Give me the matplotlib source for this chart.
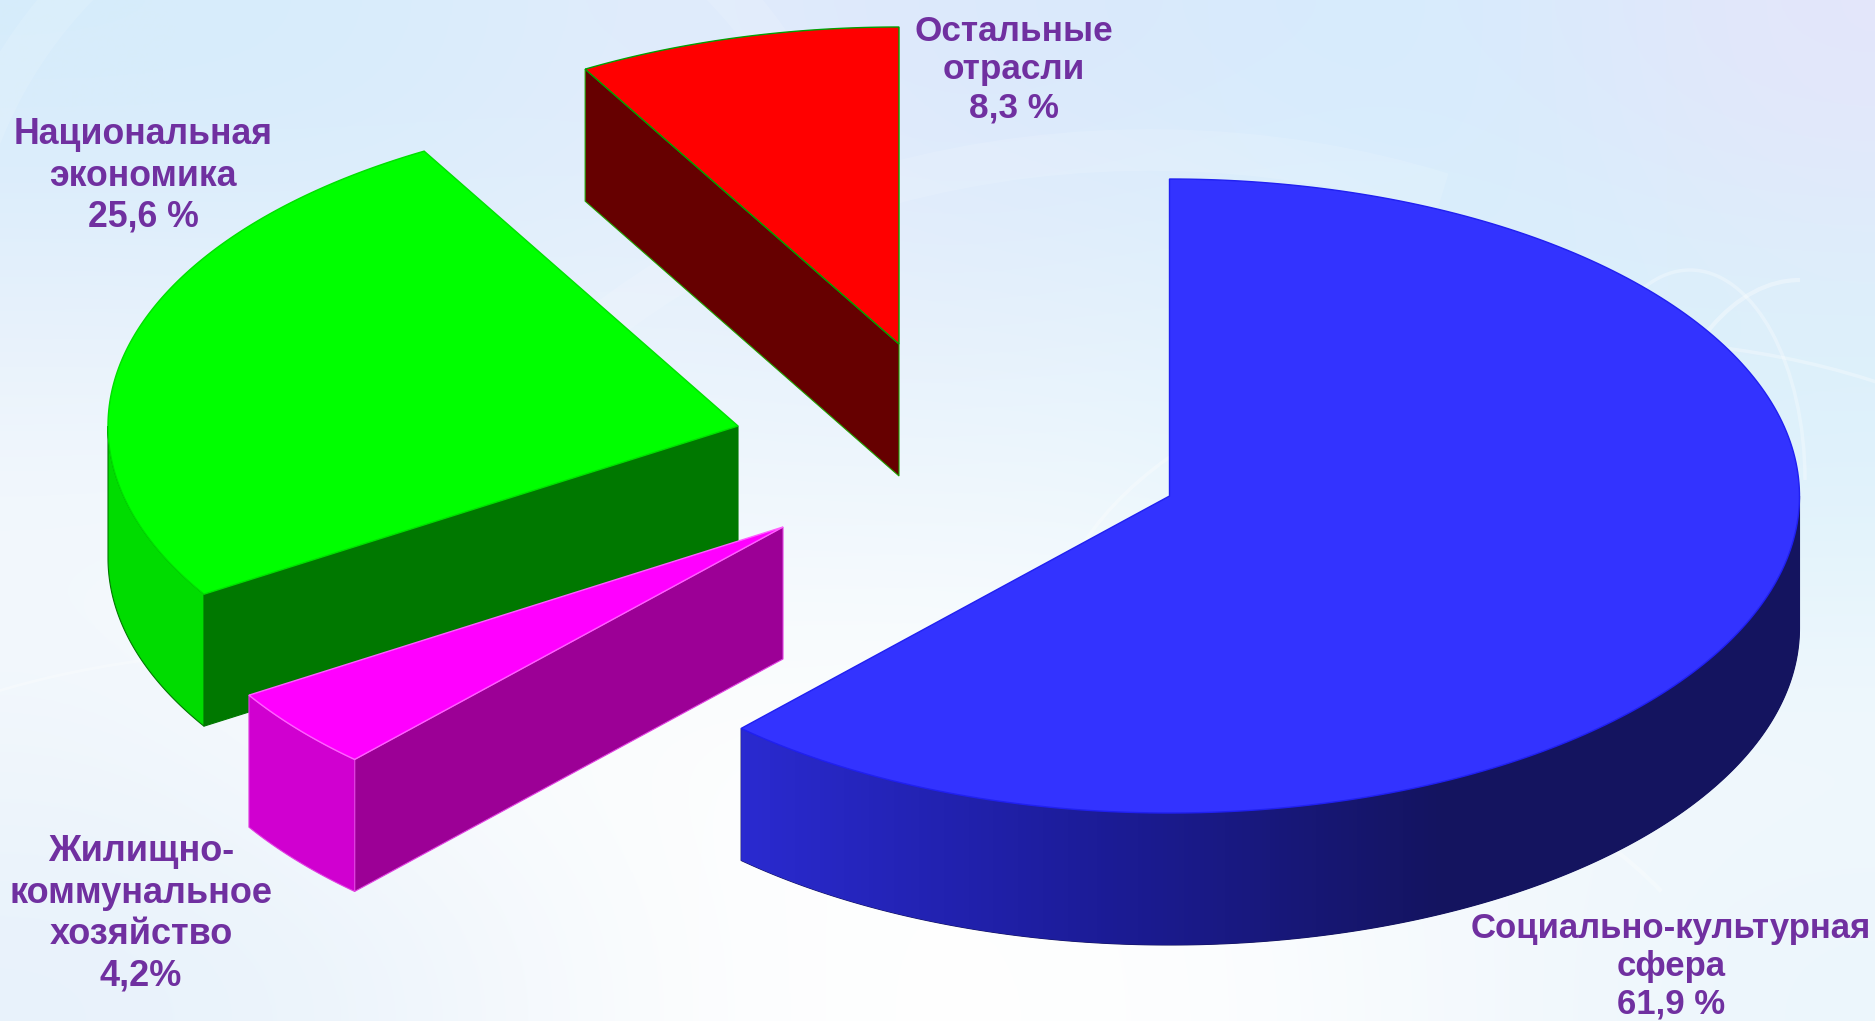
import numpy as np
import matplotlib.pyplot as plt
from matplotlib.colors import LinearSegmentedColormap, to_rgb
from matplotlib.patches import Arc, Polygon

# pie data, clockwise from 12 o'clock
names = ["Социально-культурная\nсфера\n61,9 %",
         "Жилищно-\nкоммунальное\nхозяйство\n4,2%",
         "Национальная\nэкономика\n25,6 %",
         "Остальные\nотрасли\n8,3 %"]
shares = [61.9, 4.2, 25.6, 8.3]

# layout, in pixels of the picture
W, H = 1875, 1021
apex = [(1169.5, 496), (783, 527), (738, 426), (899, 344)]
label_pos = [(1671, 966), (141, 914), (143, 176), (1014, 70)]
line_gap = [1.18, 1.24, 1.24, 1.2]
label_size = [25, 26, 25.7, 25.3]
A, B, DEPTH = 630, 317, 132

top_col = ["#3333ff", "#ff00ff", "#00ff00", "#ff0000"]
edge_col = ["#2020f0", "#ff60ff", "#00e000", "#00a000"]
cut_col = [None, "#9c0096", "#007800", "#660000"]
cut_edge = [None, "#e040e0", "#007800", "#20a000"]
wall_col = [None, "#d000d0", "#00dc00", None]
TEXT = "#7030a0"

bg_grid = [
    ["#d6ecfb", "#d8ecfb", "#e2ecfb", "#dce8fb", "#d8eafc", "#d6ecfd", "#e4e6fa"],
    ["#e6f0fb", "#e2f0fb", "#e8f2fc", "#e4effb", "#e4f2fc", "#d8f0fb", "#dcf0fb"],
    ["#f4f9fd", "#f6fafe", "#f0f7fd", "#f0f8fd", "#eef8fd", "#dcf2fb", "#e0f2fb"],
    ["#f2f7fc", "#fbfdfe", "#fdfefe", "#fefefe", "#fafdfe", "#f2f8fd", "#f2f9fd"],
    ["#e8f2fb", "#eef5fc", "#fcfdfe", "#ffffff", "#fdfeff", "#f4f9fd", "#ecf6fc"],
]


def rim(p, theta):
    t = np.radians(theta)
    return p[0] + A * np.sin(t), p[1] - B * np.cos(t)


def quad(xa, ya, xb, yb, col, edge=None, zorder=3):
    xs = np.r_[xa, xb[::-1]]
    ys = np.r_[ya, yb[::-1]]
    patch = Polygon(np.c_[xs, ys], closed=True, fc=col, ec=edge or col, lw=0.8, zorder=zorder)
    ax.add_patch(patch)
    return patch


fig = plt.figure(figsize=(W / 100, H / 100), dpi=100)
ax = fig.add_axes([0, 0, 1, 1])
ax.set_xlim(0, W)
ax.set_ylim(H, 0)
ax.axis("off")

# backdrop
rgb = np.array([[to_rgb(c) for c in row] for row in bg_grid])
ax.imshow(rgb, extent=(0, W, H, 0), aspect="auto", interpolation="bicubic", zorder=0)
ax.set_autoscale_on(False)
for cx, cy, w, h, a1, a2, lw, al in [(1600, 650, 1100, 620, 180, 350, 2.5, 0.3),
                                     (1690, 480, 230, 420, 180, 360, 2.5, 0.3),
                                     (1800, 560, 320, 560, 120, 270, 3, 0.35),
                                     (300, 900, 1100, 500, 190, 300, 2, 0.3),
                                     (1300, 1100, 900, 700, 230, 330, 3, 0.3),
                                     (1150, 700, 1500, 1100, 200, 300, 30, 0.12),
                                     (400, 300, 900, 900, 200, 340, 30, 0.12)]:
    ax.add_patch(Arc((cx, cy), w, h, theta1=a1, theta2=a2, color="white", lw=lw, alpha=al, zorder=1))

blue_wall = LinearSegmentedColormap.from_list("wall", ["#2a2ad0", "#1c1c98", "#14145f", "#14145f"])

ends = np.cumsum(shares) * 3.6
starts = np.r_[0, ends[:-1]]

for i in [3, 2, 1, 0]:
    p, t0, t1 = apex[i], starts[i], ends[i]

    # flat wall along the first cut, seen only on slices left of the centre
    if cut_col[i]:
        x0, y0 = rim(p, t0)
        quad(np.array([x0, p[0]]), np.array([y0, p[1]]),
             np.array([x0, p[0]]), np.array([y0, p[1]]) + DEPTH, cut_col[i], cut_edge[i])

    # outer wall, front half of the rim only
    lo, hi = max(t0, 90), min(t1, 270)
    if hi > lo:
        th = np.linspace(lo, hi, 240)
        xs, ys = rim(p, th)
        if i == 0:
            shape = quad(xs, ys, xs, ys + DEPTH, "#14145f")
            grad = np.linspace(0, 1, 256)[None, :]
            im = ax.imshow(grad, extent=(xs.min(), xs.max(), ys.max() + DEPTH, ys.min()),
                           aspect="auto", cmap=blue_wall, zorder=3.2)
            im.set_clip_path(shape)
        else:
            quad(xs, ys, xs, ys + DEPTH, wall_col[i], cut_edge[i])

    # top face
    th = np.linspace(t0, t1, 240)
    xs, ys = rim(p, th)
    ax.add_patch(Polygon(np.c_[np.r_[p[0], xs], np.r_[p[1], ys]], closed=True,
                         fc=top_col[i], ec=edge_col[i], lw=1, zorder=4))

for name, (x, y), gap, size in zip(names, label_pos, line_gap, label_size):
    ax.text(x, y, name, ha="center", va="center", color=TEXT, fontsize=size, fontweight="bold",
            family="Liberation Sans", linespacing=gap, zorder=5)

fig.savefig("out.png", dpi=100)
